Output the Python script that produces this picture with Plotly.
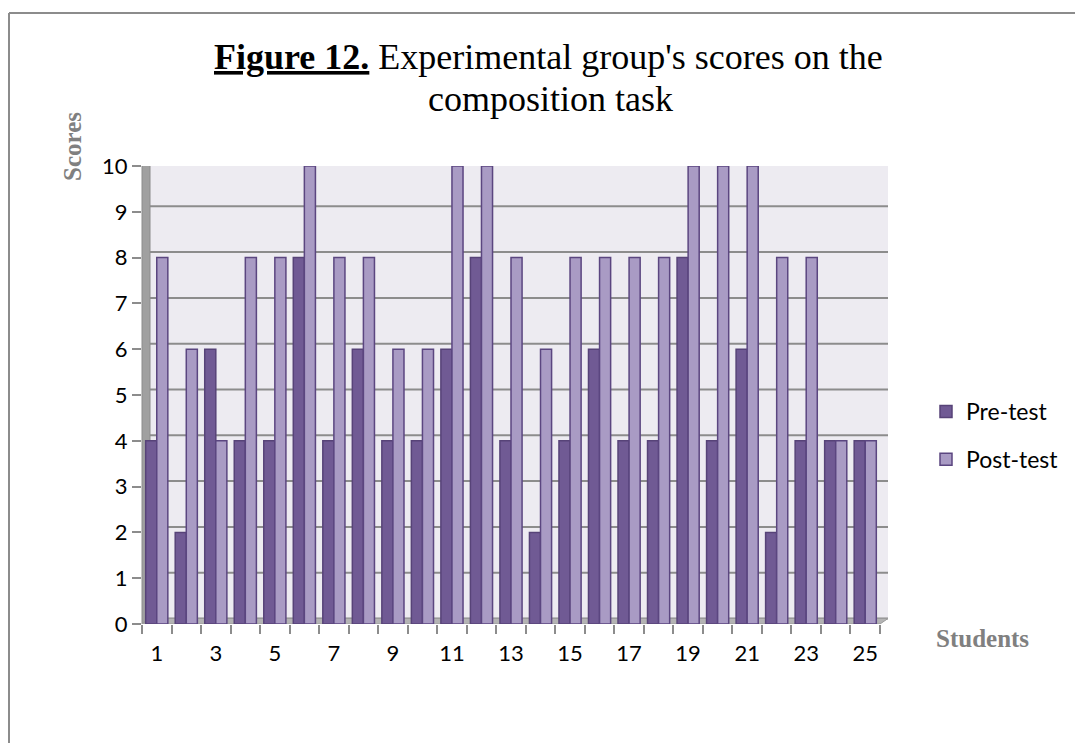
import plotly.graph_objects as go

# Scores per student (1..25)
students = list(range(1, 26))
pre_test = [4, 2, 6, 4, 4, 8, 4, 6, 4, 4, 6, 8, 4, 2, 4, 6, 4, 4, 8, 4, 6, 2, 4, 4, 4]
post_test = [8, 6, 4, 8, 8, 10, 8, 8, 6, 6, 10, 10, 8, 6, 8, 8, 8, 8, 10, 10, 10, 8, 8, 4, 4]
y_ticks = list(range(0, 11))
x_tick_labels = [1, 3, 5, 7, 9, 11, 13, 15, 17, 19, 21, 23, 25]

W, H = 1075, 743
L, R, T, B = 142, 880, 166, 624  # plot-area pixel edges


def px(x):
    return (x - L) / (R - L)


def py(y):
    return (B - y) / (B - T)


DEPTH_X = px(L + 8) - px(L)   # back-wall offset in paper units
DEPTH_Y = 0.12                # back-wall offset in data units

fig = go.Figure()
fig.add_trace(go.Bar(
    x=students, y=pre_test, name="Pre-test", legendgroup="a",
    marker=dict(color="#705A94", line=dict(color="#574378", width=1.5)),
))
fig.add_trace(go.Bar(
    x=students, y=post_test, name="Post-test", legendgroup="b",
    marker=dict(color="#A99BC4", line=dict(color="#5B4680", width=1.5)),
))

shapes = []
# back wall
shapes.append(dict(type="rect", xref="paper", yref="y", layer="below",
                   x0=DEPTH_X, x1=1 + DEPTH_X, y0=DEPTH_Y, y1=10 + DEPTH_Y,
                   fillcolor="#EDEBF1", line=dict(width=0)))
# gridlines on the back wall
for v in y_ticks:
    shapes.append(dict(type="line", xref="paper", yref="y", layer="below",
                       x0=DEPTH_X, x1=1 + DEPTH_X, y0=v + DEPTH_Y, y1=v + DEPTH_Y,
                       line=dict(color="#8C8C8C", width=2)))
# side wall
shapes.append(dict(type="path", xref="paper", yref="y", layer="below",
                   path=f"M 0 0 L {DEPTH_X} {DEPTH_Y} L {DEPTH_X} {10 + DEPTH_Y} L 0 10 Z",
                   fillcolor="#A0A0A0", line=dict(color="#8C8C8C", width=1)))
# floor
shapes.append(dict(type="path", xref="paper", yref="y", layer="below",
                   path=f"M 0 0 L {DEPTH_X} {DEPTH_Y} L {1 + DEPTH_X} {DEPTH_Y} L 1 0 Z",
                   fillcolor="#B4B4B4", line=dict(color="#9A9A9A", width=1)))
# page frame
shapes.append(dict(type="line", xref="paper", yref="paper",
                   x0=px(9), x1=px(W + 5), y0=py(13), y1=py(13),
                   line=dict(color="#8C8C8C", width=2)))
shapes.append(dict(type="line", xref="paper", yref="paper",
                   x0=px(9), x1=px(9), y0=py(13), y1=py(H + 5),
                   line=dict(color="#8C8C8C", width=2)))

title_font = dict(family="Liberation Serif", size=36, color="#000000")
annotations = [
    dict(xref="paper", yref="paper", x=px(548), y=py(57), xanchor="center", yanchor="middle",
         text="<b><u>Figure 12.</u></b> Experimental group's scores on the",
         showarrow=False, font=title_font),
    dict(xref="paper", yref="paper", x=px(550), y=py(99), xanchor="center", yanchor="middle",
         text="composition task", showarrow=False, font=title_font),
    dict(xref="paper", yref="paper", x=px(72), y=py(147), xanchor="center", yanchor="middle",
         text="<b>Scores</b>", textangle=-90, showarrow=False,
         font=dict(family="Liberation Serif", size=25, color="#808080")),
    dict(xref="paper", yref="paper", x=px(982), y=py(638), xanchor="center", yanchor="middle",
         text="<b>Students</b>", showarrow=False,
         font=dict(family="Liberation Serif", size=25, color="#808080")),
]

fig.update_layout(
    width=W, height=H, autosize=False,
    margin=dict(l=L, r=W - R, t=T, b=H - B, pad=0, autoexpand=False),
    paper_bgcolor="white", plot_bgcolor="rgba(0,0,0,0)",
    barmode="group", bargap=0.25, bargroupgap=0,
    shapes=shapes, annotations=annotations,
    font=dict(family="Lato", size=22, color="#000000"),
    legend=dict(x=px(926), y=py(390), xanchor="left", yanchor="top",
                font=dict(family="Lato", size=23), tracegroupgap=15,
                bgcolor="rgba(0,0,0,0)"),
)
fig.update_xaxes(
    range=[0.5, 25.5], tickmode="array", tickvals=x_tick_labels,
    ticktext=[str(v) for v in x_tick_labels], ticks="", showgrid=False,
    zeroline=False, showline=False, ticklabelstandoff=14,
    minor=dict(tickmode="array", tickvals=[v + 0.5 for v in range(0, 26)],
               ticks="outside", ticklen=9, tickwidth=2, tickcolor="#8C8C8C", showgrid=False),
)
fig.update_yaxes(
    range=[0, 10], tickmode="array", tickvals=y_ticks, ticks="outside",
    ticklen=9, tickwidth=2, tickcolor="#8C8C8C", showgrid=False,
    zeroline=False, showline=False, ticklabelstandoff=0,
)

fig.write_html("out.html")
